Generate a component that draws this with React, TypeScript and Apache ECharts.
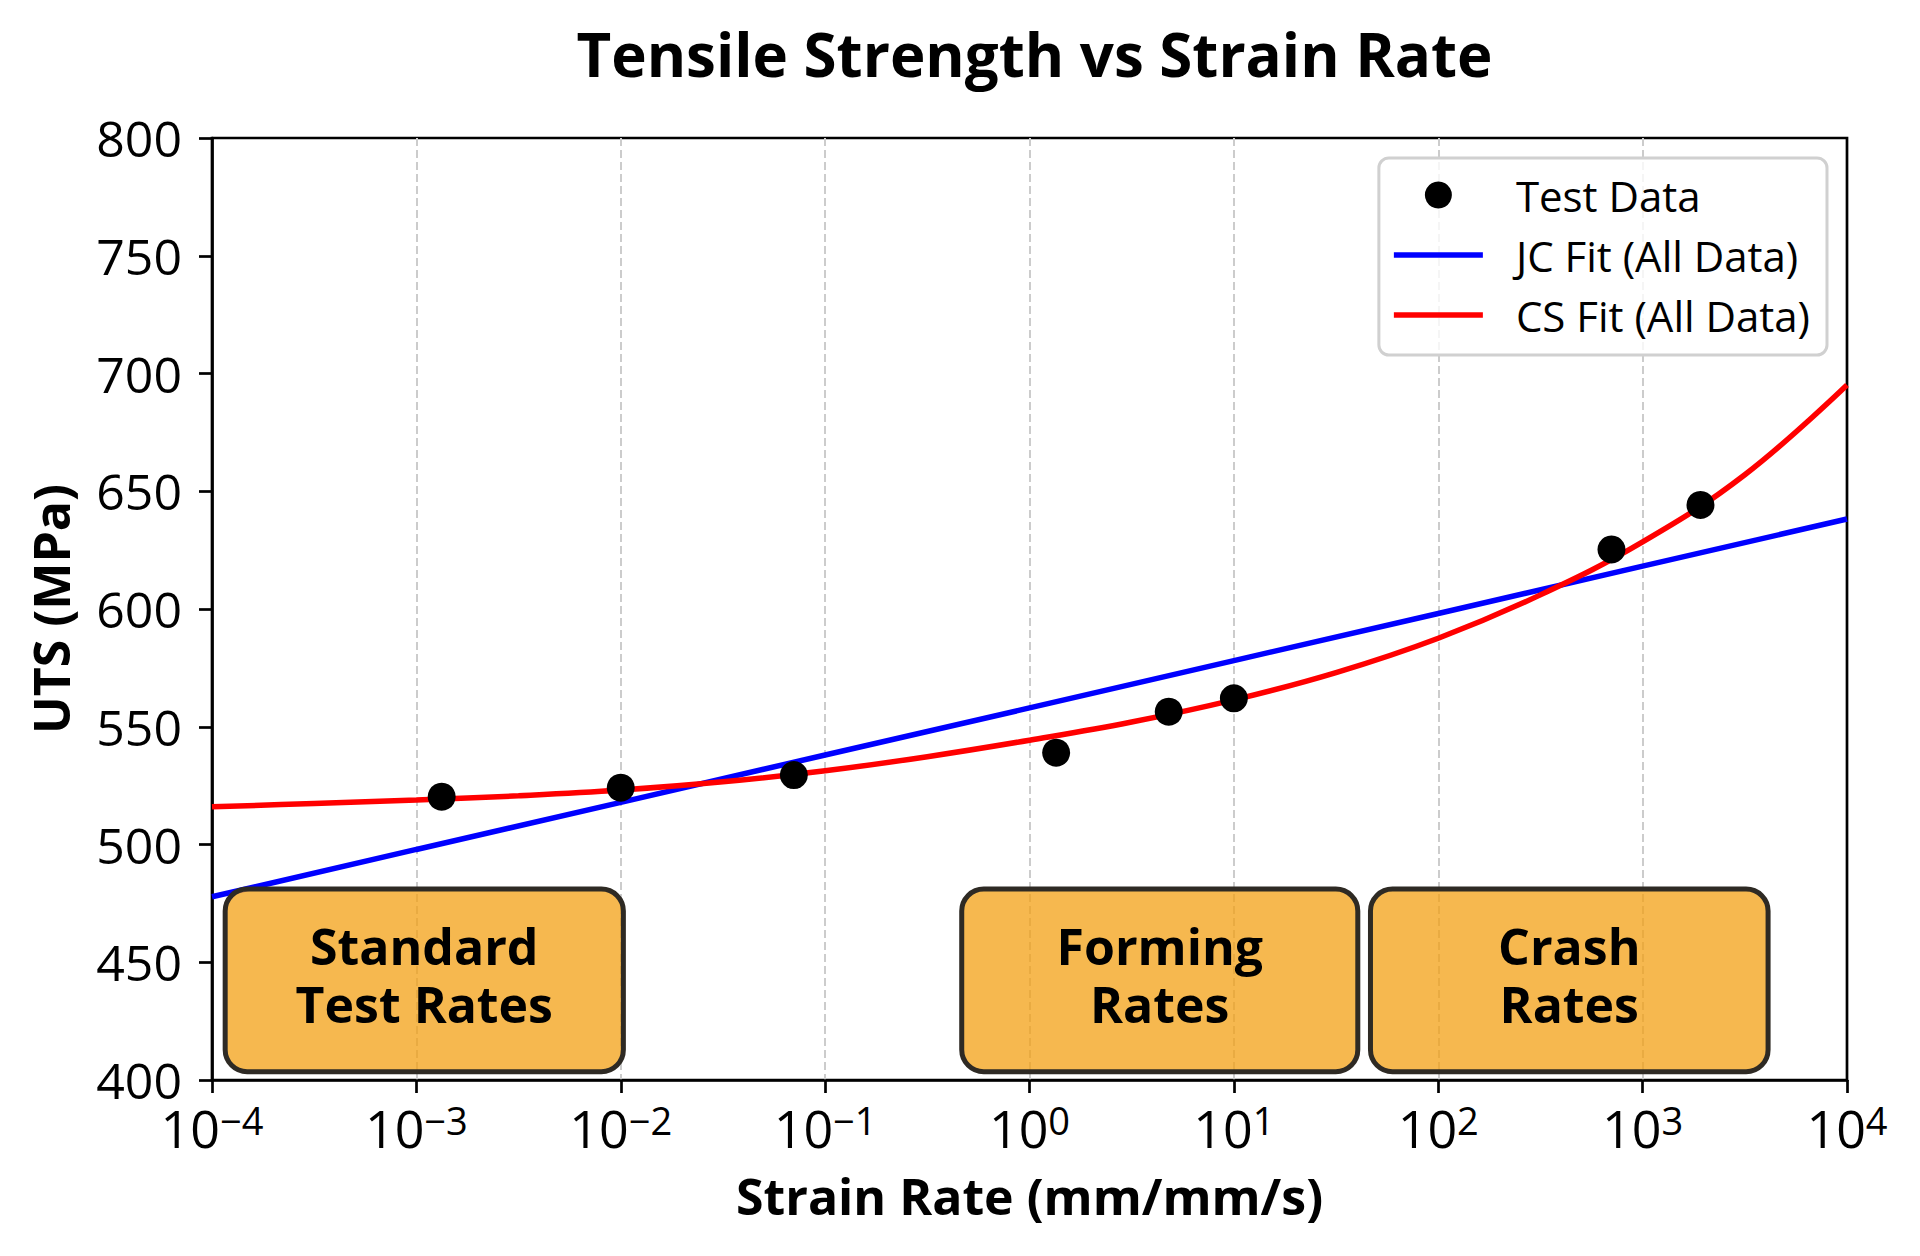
import { useEffect, useRef } from "react";
import * as echarts from "echarts";

const FONT = "'Open Sans', 'Noto Sans', sans-serif";

// measured test points (strain rate in mm/mm/s, UTS in MPa)
const testRates = [0.00133, 0.01, 0.0703, 1.35, 4.8, 10, 704, 1919];
const testUts = [520.3, 524.1, 529.5, 539.0, 556.4, 562.1, 625.3, 644.2];

const jcRates = [1e-4, 1e-3, 1e-2, 1e-1, 1, 10, 100, 1000, 10000];
const jcUts = [477.8, 497.9, 517.9, 538.0, 558.0, 578.1, 598.1, 618.2, 638.2];

const csRates = [
  1e-4, 3.16e-4, 1e-3, 3.16e-3, 1e-2, 3.16e-2, 0.1, 0.316, 1, 3.16, 10, 31.6, 100, 316, 1000, 3162, 10000,
];
const csUts = [
  516.0, 517.4, 518.9, 520.7, 523.1, 526.6, 531.3, 537.3, 544.3, 552.0, 561.4, 573.0, 587.6, 606.0, 628.5, 657.0, 695.1,
];

// strain-rate regimes shown as boxes
const regionLabels = ["Standard\nTest Rates", "Forming\nRates", "Crash\nRates"];
const regionFrom = [1.16e-4, 0.466, 46.6];
const regionTo = [0.0103, 40.4, 4110];
const regionLow = [403.5, 403.5, 403.5];
const regionHigh = [481.1, 481.1, 481.1];

const yTicks = { min: 400, max: 800, interval: 50 };

const legendLine = "path://M0,0H89V5.5H0Z";

export default function App() {
  const ref = useRef<HTMLDivElement>(null);

  useEffect(() => {
    document.body.style.margin = "0";
    if (!ref.current) return;
    const chart = echarts.init(ref.current, null, { renderer: "svg" });
    chart.setOption({
      animation: false,
      backgroundColor: "#fff",
      textStyle: { fontFamily: FONT },
      title: {
        text: "Tensile Strength vs Strain Rate",
        left: 1029.5,
        textAlign: "center",
        top: 19,
        textStyle: { fontSize: 60, fontWeight: "bold", fontFamily: FONT, color: "#000" },
      },
      grid: {
        left: 212,
        right: 73,
        top: 138,
        bottom: 176,
        show: true,
        borderColor: "#000",
        borderWidth: 2.7,
        outerBoundsMode: "none",
      },
      legend: {
        orient: "vertical",
        right: 93,
        top: 158,
        data: [
          { name: "Test Data", icon: "circle" },
          { name: "JC Fit (All Data)", icon: legendLine },
          { name: "CS Fit (All Data)", icon: legendLine },
        ],
        itemWidth: 89,
        itemHeight: 27,
        itemGap: 18,
        padding: [16, 17, 19, 15],
        borderColor: "#d0d0d0",
        borderWidth: 3,
        borderRadius: 10,
        backgroundColor: "rgba(255,255,255,0.8)",
        textStyle: { fontSize: 42, lineHeight: 42, fontFamily: FONT, color: "#000", padding: [0, 0, 0, 28] },
      },
      xAxis: {
        type: "log",
        logBase: 10,
        min: 1e-4,
        max: 1e4,
        name: "Strain Rate (mm/mm/s)",
        nameLocation: "middle",
        nameGap: 91,
        nameTextStyle: { fontSize: 50, fontWeight: "bold", fontFamily: FONT, color: "#000" },
        axisLine: { show: true, lineStyle: { color: "#000", width: 2.7 } },
        axisTick: { show: true, length: 13, lineStyle: { color: "#000", width: 2.7 } },
        minorTick: { show: false },
        axisLabel: {
          margin: 21,
          color: "#000",
          formatter: (v: number) => {
            const e = Math.round(Math.log10(v));
            return "{b|10}{s|" + (e < 0 ? "\u2212" + -e : String(e)) + "}";
          },
          rich: {
            b: { fontSize: 52, fontFamily: FONT, color: "#000" },
            s: { fontSize: 38, fontFamily: FONT, color: "#000", verticalAlign: "top" },
          },
        },
        splitLine: {
          show: true,
          showMinLine: false,
          showMaxLine: false,
          lineStyle: { color: "#cccccc", width: 2, type: [8, 4] },
        },
      },
      yAxis: {
        type: "value",
        min: yTicks.min,
        max: yTicks.max,
        interval: yTicks.interval,
        name: "UTS (MPa)",
        nameLocation: "middle",
        nameRotate: 90,
        nameGap: 136,
        nameTextStyle: { fontSize: 50, fontWeight: "bold", fontFamily: FONT, color: "#000" },
        axisLine: { show: true, lineStyle: { color: "#000", width: 2.7 } },
        axisTick: { show: true, length: 13, lineStyle: { color: "#000", width: 2.7 } },
        axisLabel: { margin: 30, fontSize: 50, fontFamily: FONT, color: "#000" },
        splitLine: { show: false },
      },
      series: [
        {
          name: "Test Data",
          type: "scatter",
          data: testRates.map((r, i) => [r, testUts[i]]),
          symbolSize: 28,
          itemStyle: { color: "#000", opacity: 1 },
          z: 4,
        },
        {
          name: "JC Fit (All Data)",
          type: "line",
          data: jcRates.map((r, i) => [r, jcUts[i]]),
          symbol: "none",
          lineStyle: { color: "#0000ff", width: 5.5 },
          itemStyle: { color: "#0000ff" },
          z: 3,
        },
        {
          name: "CS Fit (All Data)",
          type: "line",
          data: csRates.map((r, i) => [r, csUts[i]]),
          symbol: "none",
          smooth: 0.4,
          smoothConstraint: false,
          lineStyle: { color: "#ff0000", width: 5.5 },
          itemStyle: { color: "#ff0000" },
          z: 3,
        },
        {
          type: "custom",
          z: 6,
          data: regionFrom.map((f, i) => [f, regionTo[i], regionLow[i], regionHigh[i]]),
          encode: { x: [0, 1], y: [2, 3] },
          renderItem: (params: any, api: any) => {
            const tl = api.coord([api.value(0), api.value(3)]);
            const br = api.coord([api.value(1), api.value(2)]);
            return {
              type: "group",
              children: [
                {
                  type: "rect",
                  shape: { x: tl[0], y: tl[1], width: br[0] - tl[0], height: br[1] - tl[1], r: 22 },
                  style: { fill: "rgba(243,160,20,0.75)", stroke: "#2e2a24", lineWidth: 5 },
                },
                {
                  type: "text",
                  x: (tl[0] + br[0]) / 2,
                  y: (tl[1] + br[1]) / 2 - 5,
                  style: {
                    text: regionLabels[params.dataIndex],
                    fontSize: 50,
                    fontWeight: "bold",
                    fontFamily: FONT,
                    fill: "#000",
                    align: "center",
                    verticalAlign: "middle",
                    lineHeight: 58,
                  },
                },
              ],
            };
          },
        },
      ],
    });
    return () => chart.dispose();
  }, []);

  return <div ref={ref} style={{ width: 1920, height: 1256 }} />;
}
